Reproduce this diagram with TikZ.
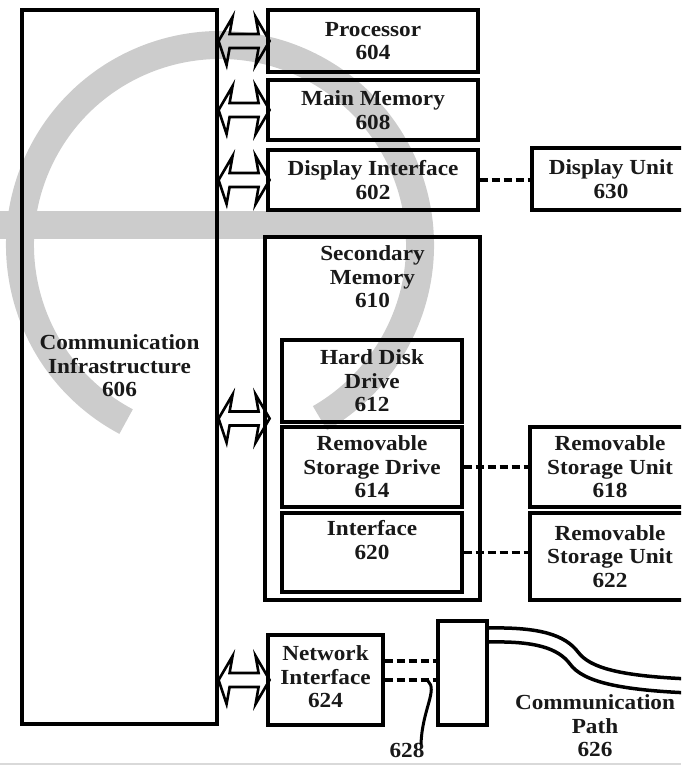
\documentclass[tikz,border=0pt]{standalone}
\usepackage{fontspec}
\newfontfamily\bxfont[FakeStretch=1.08]{Liberation Serif}
\begin{document}
\begin{tikzpicture}[x=1pt,y=-1pt,
  box/.style={draw, line width=3.2pt, inner sep=0pt, anchor=center},
  txt/.style={align=center, inner sep=0pt, text=black!90, font=\bxfont\bfseries\fontsize{21.5}{23.5}\selectfont},
  dsh/.style={line width=3.5pt, dash pattern=on 8pt off 4pt},
  wm/.style={black!20, line width=28pt},
  dblar/.style={line width=2.6pt, line join=miter}]
\useasboundingbox (0,0) rectangle (681,765);
\clip (0,0) rectangle (681,765);
% watermark
\draw[wm] (220,245) ++(118:200) arc[start angle=118, end angle=420, radius=200];
\draw[wm] (0,225) -- (425,225);
\draw[black!15, line width=2pt] (0,764) -- (681,764);
% boxes
\node[box, minimum width=195pt, minimum height=714pt] (comm) at (119.5,367) {};
\node[txt] at (119.5,366) {Communication\\Infrastructure\\606};
\node[box, minimum width=210pt, minimum height=62pt] (pr) at (373,41) {};
\node[txt] at (pr) {Processor\\604};
\node[box, minimum width=210pt, minimum height=60pt] (mm) at (373,110) {};
\node[txt] at (mm) {Main Memory\\608};
\node[box, minimum width=210pt, minimum height=60pt] (di) at (373,180) {};
\node[txt] at (di) {Display Interface\\602};
\node[box, minimum width=158pt, minimum height=62pt] (du) at (611,179) {};
\node[txt] at (du) {Display Unit\\630};
\node[box, minimum width=215pt, minimum height=363pt] (sm) at (372.5,418.5) {};
\node[txt] at (372.5,277) {Secondary\\Memory\\610};
\node[box, minimum width=180pt, minimum height=82pt] (hdd) at (372,381) {};
\node[txt] at (hdd) {Hard Disk\\Drive\\612};
\node[box, minimum width=180pt, minimum height=80pt] (rsd) at (372,467) {};
\node[txt] at (rsd) {Removable\\Storage Drive\\614};
\node[box, minimum width=180pt, minimum height=79pt] (ifc) at (372,552.5) {};
\node[txt] at (372,540) {Interface\\620};
\node[box, minimum width=160pt, minimum height=80pt] (rsu1) at (610,467) {};
\node[txt] at (rsu1) {Removable\\Storage Unit\\618};
\node[box, minimum width=160pt, minimum height=87pt] (rsu2) at (610,556.5) {};
\node[txt] at (rsu2) {Removable\\Storage Unit\\622};
\node[box, minimum width=115pt, minimum height=90pt] (ni) at (325.5,680) {};
\node[txt] at (325.5,677) {Network\\Interface\\624};
\node[box, minimum width=49pt, minimum height=104pt] (cb) at (462.5,673) {};
\node[txt] (cp) at (595,726) {Communication\\Path\\626};
\node[txt, anchor=base] (l628) at (407,757) {628};
% double arrows
\foreach \t in {pr,mm,di,sm,ni}{
  \draw[dblar] (comm.east |- \t.west) -- ++(14,-24) -- ++(-3,17) -- ++(29,0) -- ++(-3,-17) -- ++(14,24)
     -- ++(-14,24) -- ++(3,-17) -- ++(-29,0) -- ++(-3,17) -- cycle;
}
% dashed connectors
\draw[dsh] (di.east) -- (du.west |- di.east);
\draw[dsh] (rsd.east) -- (rsu1.west |- rsd.east);
\draw[dsh] (ifc.east) -- (rsu2.west |- ifc.east);
\draw[dsh] (ni.east |- 0,661) coordinate (n1) -- (cb.west |- n1);
\draw[dsh] (ni.east |- 0,680) coordinate (n2) -- (cb.west |- n2) coordinate (n3);
\coordinate (lt) at (428,681);
\draw[line width=3pt] (lt) .. controls (438,690) and (422,710) .. ([yshift=-2pt]l628.north -| 421,0) ;
% communication path
\coordinate (pa) at (cb.north east |- 0,628);
\coordinate (pb) at (cb.north east |- 0,642);
\draw[line width=3.5pt] (pa) .. controls (540,627) and (565,635) .. (578,652) .. controls (590,668) and (620,676) .. (690,679);
\draw[line width=3.5pt] (pb) .. controls (535,641) and (558,648) .. (570,664) .. controls (583,682) and (620,690) .. (690,693);
\end{tikzpicture}
\end{document}
